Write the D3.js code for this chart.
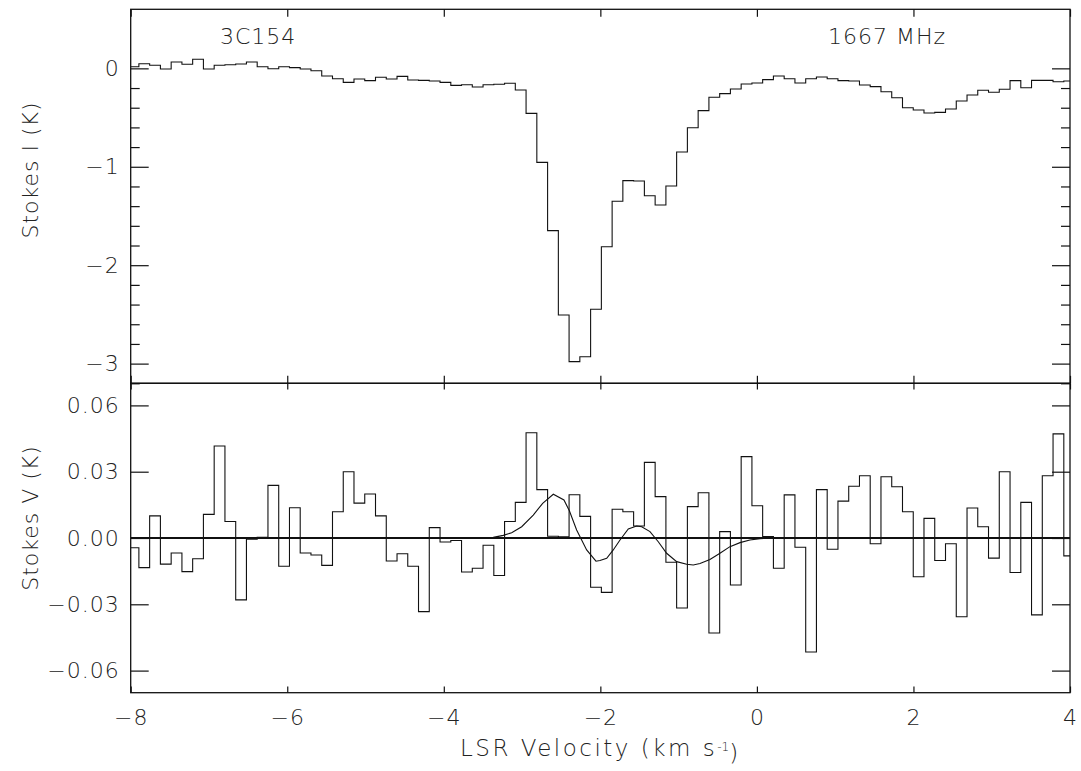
<!DOCTYPE html>
<html>
<head>
<meta charset="utf-8">
<script src="https://cdn.jsdelivr.net/npm/d3@7"></script>
<style>
  body { margin: 0; background: #fff; }
  text { font-family: 'DejaVu Sans', sans-serif; font-weight: 300; fill: #222; }
</style>
</head>
<body>
<div id="chart"></div>
<script>
// channel centre velocities (km/s)
const velocity = [
  -7.964, -7.827, -7.689, -7.552, -7.414, -7.277, -7.140, -7.002, -6.865, -6.727,
  -6.590, -6.453, -6.315, -6.178, -6.040, -5.903, -5.766, -5.628, -5.491, -5.353,
  -5.216, -5.079, -4.941, -4.804, -4.666, -4.529, -4.392, -4.254, -4.117, -3.979,
  -3.842, -3.705, -3.567, -3.430, -3.292, -3.155, -3.018, -2.880, -2.743, -2.605,
  -2.468, -2.331, -2.193, -2.056, -1.918, -1.781, -1.644, -1.506, -1.369, -1.231,
  -1.094, -0.957, -0.819, -0.682, -0.544, -0.407, -0.270, -0.132, 0.005, 0.142,
  0.280, 0.417, 0.555, 0.692, 0.829, 0.967, 1.104, 1.242, 1.379, 1.516,
  1.654, 1.791, 1.929, 2.066, 2.203, 2.341, 2.478, 2.616, 2.753, 2.890,
  3.028, 3.165, 3.303, 3.440, 3.577, 3.715, 3.852, 3.990
];

// Stokes I (K)
const stokesI = [
  0.017, 0.047, 0.031, -0.007, 0.065, 0.041, 0.092, -0.007, 0.031, 0.037,
  0.044, 0.065, 0.017, -0.004, 0.017, 0.007, -0.007, -0.024, -0.078, -0.105,
  -0.142, -0.108, -0.125, -0.091, -0.108, -0.081, -0.118, -0.122, -0.129, -0.142,
  -0.173, -0.166, -0.190, -0.166, -0.162, -0.152, -0.220, -0.457, -0.955, -1.649,
  -2.506, -2.980, -2.930, -2.448, -1.812, -1.351, -1.141, -1.145, -1.294, -1.388,
  -1.195, -0.850, -0.603, -0.430, -0.294, -0.257, -0.210, -0.159, -0.149, -0.115,
  -0.078, -0.105, -0.149, -0.105, -0.088, -0.105, -0.125, -0.129, -0.169, -0.186,
  -0.237, -0.298, -0.400, -0.423, -0.454, -0.447, -0.413, -0.332, -0.271, -0.223,
  -0.243, -0.213, -0.125, -0.197, -0.122, -0.122, -0.136, -0.129
];

// Stokes V (K)
const stokesV = [
  -0.0044, -0.0134, 0.0100, -0.0118, -0.0068, -0.0152, -0.0094, 0.0107, 0.0416, 0.0075,
  -0.0280, -0.0005, 0.0003, 0.0238, -0.0128, 0.0137, -0.0068, -0.0077, -0.0124, 0.0119,
  0.0300, 0.0158, 0.0199, 0.0100, -0.0104, -0.0071, -0.0128, -0.0333, 0.0047, -0.0018,
  -0.0011, -0.0154, -0.0137, -0.0033, -0.0170, 0.0075, 0.0161, 0.0476, 0.0219, 0.0008,
  0.0005, 0.0196, 0.0098, -0.0223, -0.0246, 0.0130, 0.0119, 0.0054, 0.0342, 0.0187,
  -0.0110, -0.0317, 0.0142, 0.0205, -0.0430, 0.0029, -0.0213, 0.0368, 0.0146, 0.0006,
  -0.0137, 0.0195, -0.0042, -0.0516, 0.0219, -0.0051, 0.0167, 0.0234, 0.0282, -0.0026,
  0.0277, 0.0232, 0.0119, -0.0175, 0.0089, -0.0102, -0.0026, -0.0356, 0.0136, 0.0051,
  -0.0091, 0.0300, -0.0156, 0.0161, -0.0348, 0.0282, 0.0471, -0.0081
];

// Zeeman fit to Stokes V
const fitVelocity = [
  -8, -3.452, -3.368, -3.240, -3.133, -3.005, -2.857, -2.737, -2.601, -2.465,
  -2.397, -2.303, -2.175, -2.056, -2.005, -1.919, -1.835, -1.749, -1.643, -1.536,
  -1.472, -1.366, -1.260, -1.153, -1.025, -0.897, -0.813, -0.727, -0.600, -0.472,
  -0.344, -0.216, -0.089, 0.039, 0.210, 4
];
const fitValues = [
  0, 0, 0.0003, 0.0012, 0.0024, 0.0051, 0.0104, 0.0157, 0.0198, 0.0172,
  0.0124, 0.0036, -0.0054, -0.0105, -0.0102, -0.0092, -0.0054, -0.0009, 0.0041, 0.0054,
  0.0051, 0.0029, -0.0017, -0.0069, -0.0107, -0.0119, -0.0122, -0.0115, -0.0097, -0.0069,
  -0.0039, -0.0021, -0.0009, -0.0003, 0, 0
];

const xTicks = [-8, -6, -4, -2, 0, 2, 4];
const iTicks = [0, -1, -2, -3];
const iMinorTicks = [-0.2, -0.4, -0.6, -0.8, -1.2, -1.4, -1.6, -1.8, -2.2, -2.4, -2.6, -2.8, -3.2];
const vTicks = [-0.06, -0.03, 0, 0.03, 0.06];

const width = 1081, height = 771;
const left = 130.7, right = 1070;
const topY = 9.3, midY = 383.3, bottomY = 692.7;

const svg = d3.select('#chart').append('svg')
    .attr('width', width)
    .attr('height', height)
    .style('background', '#fff');

const x = d3.scaleLinear().domain([-8, 4]).range([left, right]);
const yI = d3.scaleLinear().domain([-3.2, 0.6]).range([midY, topY]);
const yV = d3.scaleLinear().domain([-0.07, 0.07]).range([bottomY, midY]);

const defs = svg.append('defs');
defs.append('clipPath').attr('id', 'clip-top')
    .append('rect').attr('x', left).attr('y', topY)
    .attr('width', right - left).attr('height', midY - topY);
defs.append('clipPath').attr('id', 'clip-bottom')
    .append('rect').attr('x', left).attr('y', midY)
    .attr('width', right - left).attr('height', bottomY - midY);

// histogram outline: each channel spans half way to its neighbours
function stepPoints(vals) {
    const pts = [];
    velocity.forEach((v, i) => {
        const prev = i > 0 ? velocity[i - 1] : 2 * v - velocity[i + 1];
        const next = i < velocity.length - 1 ? velocity[i + 1] : 2 * v - velocity[i - 1];
        pts.push([(prev + v) / 2, vals[i]]);
        pts.push([(v + next) / 2, vals[i]]);
    });
    return pts;
}

const lineI = d3.line().x(d => x(d[0])).y(d => yI(d[1]));
const lineV = d3.line().x(d => x(d[0])).y(d => yV(d[1]));

svg.append('path')
    .attr('clip-path', 'url(#clip-top)')
    .attr('d', lineI(stepPoints(stokesI)))
    .attr('fill', 'none')
    .attr('stroke', '#111')
    .attr('stroke-width', 1.1);

const bottomLayer = svg.append('g').attr('clip-path', 'url(#clip-bottom)');

bottomLayer.append('path')
    .attr('d', lineV([[-8, 0], [4, 0]]))
    .attr('fill', 'none')
    .attr('stroke', '#111')
    .attr('stroke-width', 1.2)
    .attr('shape-rendering', 'crispEdges');

bottomLayer.append('path')
    .attr('d', lineV(stepPoints(stokesV)))
    .attr('fill', 'none')
    .attr('stroke', '#111')
    .attr('stroke-width', 1.1);

bottomLayer.append('path')
    .attr('d', lineV(fitVelocity.map((v, i) => [v, fitValues[i]])))
    .attr('fill', 'none')
    .attr('stroke', '#111')
    .attr('stroke-width', 1.1);

// axes
const noDomain = g => g.select('.domain').remove();
const tickStyle = g => g.selectAll('line').attr('stroke', '#111').attr('stroke-width', 1.2);
const labelStyle = g => g.selectAll('text')
    .style('font-size', '22px')
    .style('letter-spacing', '1px')
    .attr('fill', '#222');

const fmtI = d3.format('d');
const fmtV = d3.format('.2f');

// top panel
svg.append('g').attr('transform', `translate(${left},0)`)
    .call(d3.axisLeft(yI).tickValues(iTicks).tickSize(-18).tickPadding(11).tickFormat(fmtI))
    .call(noDomain).call(tickStyle).call(labelStyle);
svg.append('g').attr('transform', `translate(${left},0)`)
    .call(d3.axisLeft(yI).tickValues(iMinorTicks).tickSize(-9).tickFormat(''))
    .call(noDomain).call(tickStyle);
svg.append('g').attr('transform', `translate(${right},0)`)
    .call(d3.axisRight(yI).tickValues(iTicks).tickSize(-18).tickFormat(''))
    .call(noDomain).call(tickStyle);
svg.append('g').attr('transform', `translate(${right},0)`)
    .call(d3.axisRight(yI).tickValues(iMinorTicks).tickSize(-9).tickFormat(''))
    .call(noDomain).call(tickStyle);
svg.append('g').attr('transform', `translate(0,${topY})`)
    .call(d3.axisTop(x).tickValues(xTicks).tickSize(-7.5).tickFormat(''))
    .call(noDomain).call(tickStyle);
svg.append('g').attr('transform', `translate(0,${midY})`)
    .call(d3.axisBottom(x).tickValues(xTicks).tickSize(-7.5).tickFormat(''))
    .call(noDomain).call(tickStyle);

// bottom panel
svg.append('g').attr('transform', `translate(${left},0)`)
    .call(d3.axisLeft(yV).tickValues(vTicks).tickSize(-18).tickPadding(11).tickFormat(fmtV))
    .call(noDomain).call(tickStyle).call(labelStyle);
svg.append('g').attr('transform', `translate(${right},0)`)
    .call(d3.axisRight(yV).tickValues(vTicks).tickSize(-18).tickFormat(''))
    .call(noDomain).call(tickStyle);
svg.append('g').attr('transform', `translate(0,${midY})`)
    .call(d3.axisTop(x).tickValues(xTicks).tickSize(-6.2).tickFormat(''))
    .call(noDomain).call(tickStyle);
svg.append('g').attr('transform', `translate(0,${bottomY})`)
    .call(d3.axisBottom(x).tickValues(xTicks).tickSize(-6.2).tickPadding(17).tickFormat(fmtI))
    .call(noDomain).call(tickStyle).call(labelStyle);

// panel frames
[[topY, midY], [midY, bottomY]].forEach(([y0, y1]) => {
    svg.append('rect')
        .attr('x', left).attr('y', y0)
        .attr('width', right - left).attr('height', y1 - y0)
        .attr('fill', 'none')
        .attr('stroke', '#111')
        .attr('stroke-width', 1.3);
});

// titles
const title = (txt, xPos, yPos, rotate, anchor) => svg.append('text')
    .attr('transform', `translate(${xPos},${yPos})` + (rotate ? ' rotate(-90)' : ''))
    .attr('text-anchor', anchor)
    .attr('dy', '0.35em')
    .style('font-size', '22px')
    .style('letter-spacing', '1px')
    .text(txt);

title('3C154', 220, 36, false, 'start');
title('1667 MHz', 828, 36, false, 'start');
title('Stokes I (K)', 30, 170, true, 'middle');
title('Stokes V (K)', 30, 518, true, 'middle');

const xTitle = svg.append('text')
    .attr('x', (left + right) / 2)
    .attr('y', 748)
    .attr('text-anchor', 'middle')
    .attr('dy', '0.35em')
    .style('font-size', '23px')
    .style('letter-spacing', '2.5px');
xTitle.append('tspan').text('LSR Velocity (km s');
xTitle.append('tspan').attr('dy', '-0.45em').style('font-size', '12px').style('letter-spacing', '0px').text('-1');
xTitle.append('tspan').attr('dy', '0.45em').text(')');
</script>
</body>
</html>
